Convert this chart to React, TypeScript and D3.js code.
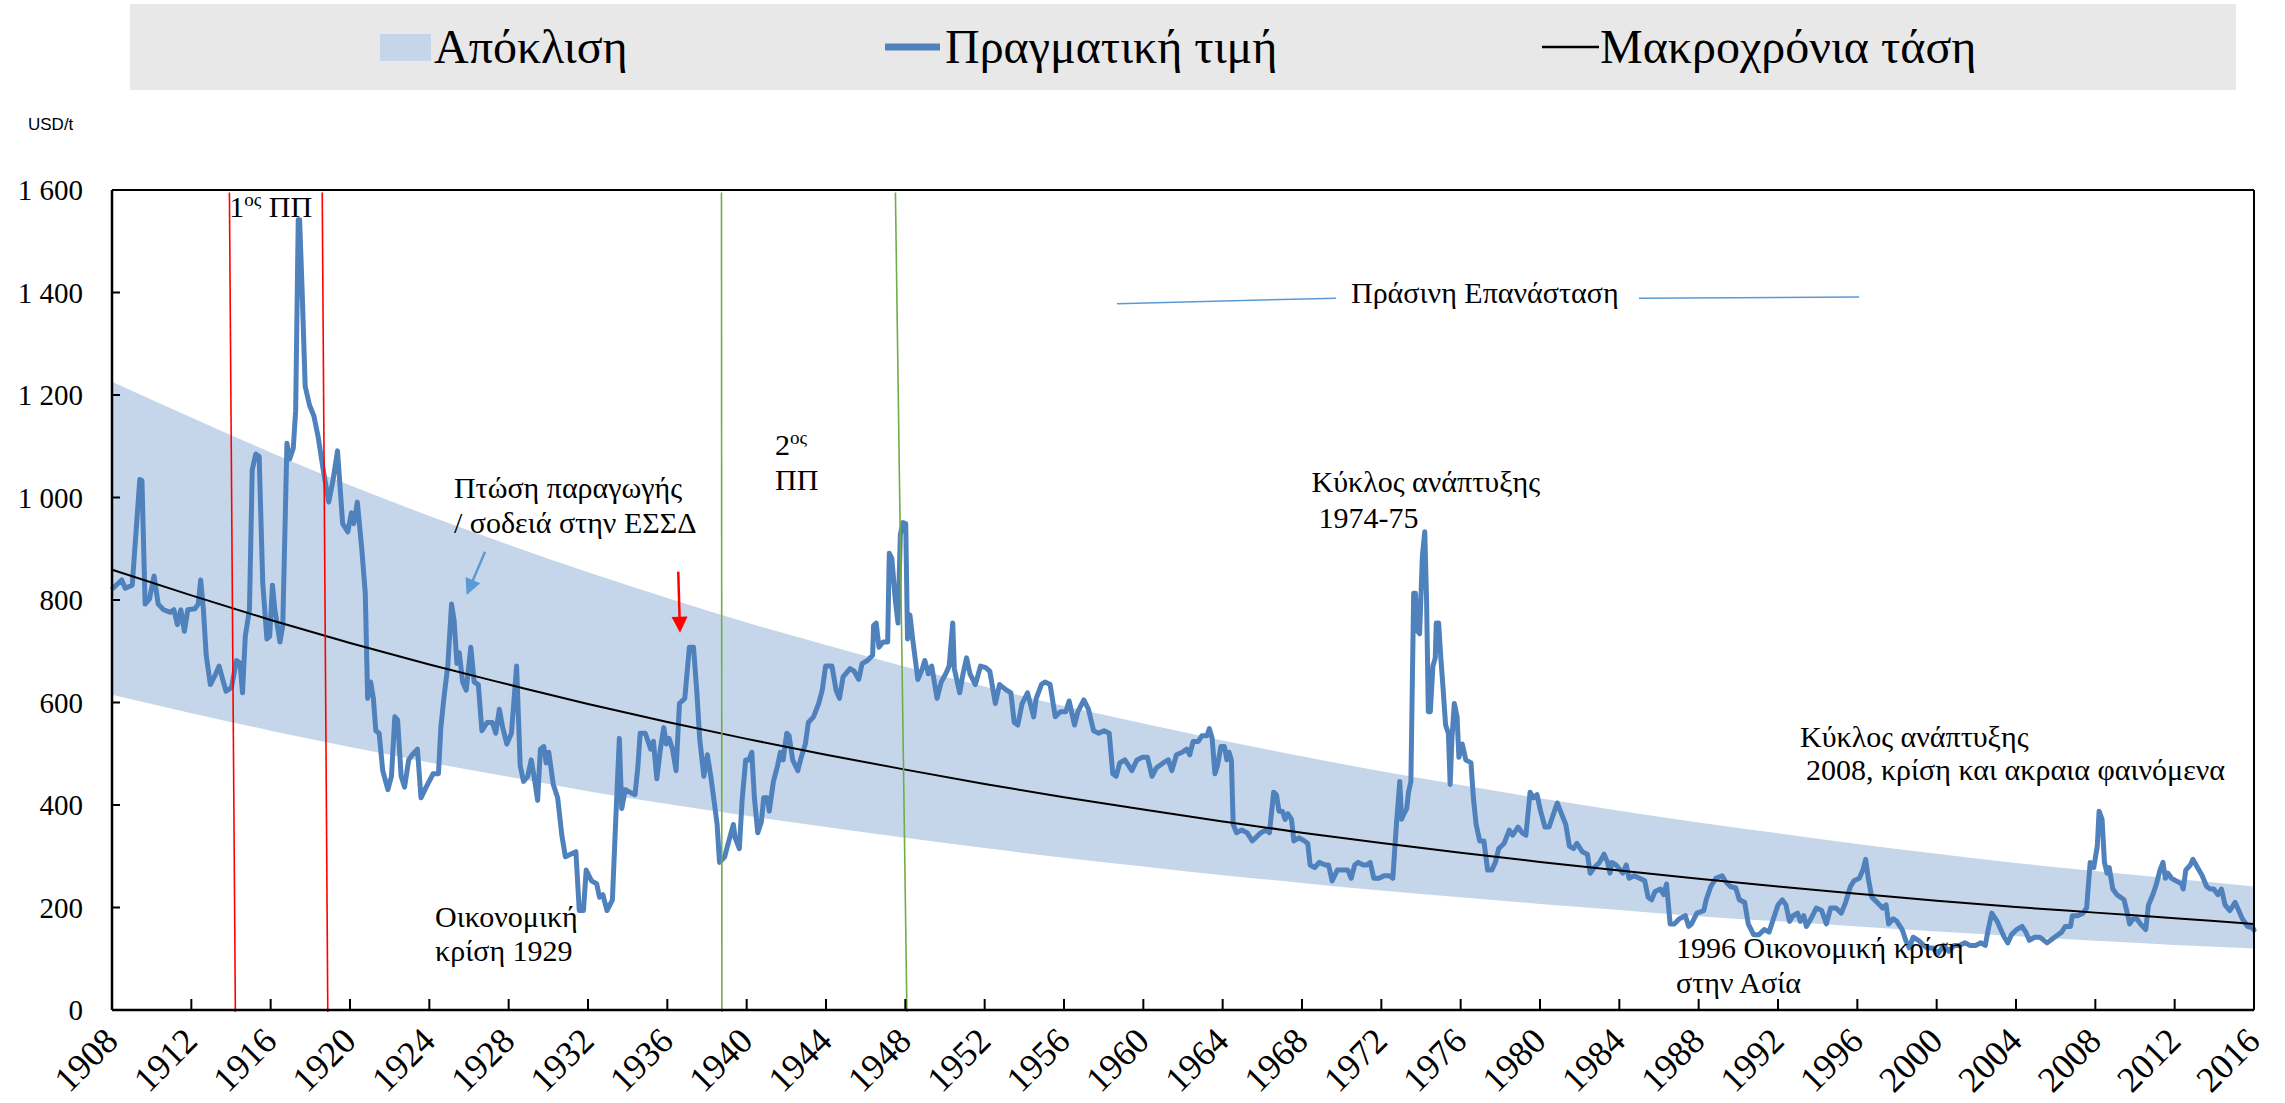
import React from 'react';
import * as d3 from 'd3';

const W = 2285;
const H = 1103;

const yTicks = [0, 200, 400, 600, 800, 1000, 1200, 1400, 1600];
const xTickYears = [1908, 1912, 1916, 1920, 1924, 1928, 1932, 1936, 1940, 1944, 1948, 1952, 1956, 1960, 1964, 1968, 1972, 1976, 1980, 1984, 1988, 1992, 1996, 2000, 2004, 2008, 2012, 2016];

// long-run trend & deviation band, read at every 4-year tick
const trendValues = [859, 809, 761, 716, 674, 635, 597, 562, 529, 498, 469, 441, 415, 391, 368, 346, 326, 307, 289, 272, 256, 241, 227, 213, 201, 190, 179, 168];
const bandUpper = [1226, 1156, 1088, 1024, 964, 908, 854, 804, 756, 712, 670, 631, 593, 559, 526, 495, 466, 439, 413, 389, 366, 345, 324, 305, 287, 271, 256, 241];
const bandLower = [615, 579, 545, 513, 483, 455, 427, 402, 379, 357, 336, 316, 297, 280, 263, 248, 233, 220, 207, 195, 183, 173, 163, 153, 144, 135, 127, 120];

// actual price, USD/t [year, value]
const price1908_1935: [number, number][] = [
  [1908.05, 823], [1908.49, 839], [1908.67, 823], [1909.02, 829], [1909.40, 1035], [1909.51, 1033], [1909.67, 792], [1909.89, 802],
  [1910.12, 847], [1910.33, 792], [1910.60, 781], [1910.95, 776], [1911.12, 781], [1911.30, 752], [1911.47, 781], [1911.65, 739],
  [1911.82, 781], [1912.18, 783], [1912.35, 792], [1912.47, 839], [1912.61, 781], [1912.75, 692], [1912.96, 635], [1913.23, 656],
  [1913.40, 671], [1913.58, 645], [1913.75, 622], [1914.02, 629], [1914.28, 682], [1914.46, 677], [1914.58, 619], [1914.72, 729],
  [1914.93, 781], [1915.07, 1054], [1915.25, 1085], [1915.42, 1080], [1915.60, 834], [1915.81, 724], [1915.95, 729], [1916.09, 829],
  [1916.21, 781], [1916.47, 718], [1916.61, 750], [1916.82, 1106], [1916.96, 1075], [1917.14, 1096], [1917.26, 1169], [1917.39, 1542],
  [1917.46, 1542], [1917.58, 1411], [1917.74, 1217], [1917.96, 1180], [1918.18, 1159], [1918.40, 1117], [1918.67, 1049], [1918.93, 991],
  [1919.14, 1033], [1919.37, 1091], [1919.63, 949], [1919.89, 933], [1920.07, 970], [1920.19, 949], [1920.37, 991], [1920.60, 897],
  [1920.77, 813], [1920.89, 608], [1921.04, 640], [1921.18, 608], [1921.30, 545], [1921.47, 540], [1921.65, 467], [1921.91, 430],
  [1922.09, 456], [1922.26, 572], [1922.40, 566], [1922.58, 456], [1922.75, 435], [1922.96, 488], [1923.14, 498], [1923.40, 509],
  [1923.58, 414], [1923.84, 435], [1924.19, 461], [1924.46, 461], [1924.58, 551], [1924.75, 614], [1924.93, 671], [1925.12, 792],
  [1925.25, 760], [1925.39, 676], [1925.51, 697], [1925.68, 640], [1925.86, 624], [1926.09, 708], [1926.26, 640], [1926.47, 635],
  [1926.65, 545], [1926.91, 561], [1927.18, 561], [1927.35, 540], [1927.53, 587], [1927.70, 551], [1927.91, 519], [1928.14, 540],
  [1928.40, 671], [1928.58, 477], [1928.75, 446], [1928.96, 456], [1929.14, 488], [1929.28, 456], [1929.46, 409], [1929.60, 509],
  [1929.77, 514], [1929.89, 482], [1930.02, 503], [1930.25, 440], [1930.47, 414], [1930.68, 341], [1930.86, 299], [1931.12, 304],
  [1931.39, 309], [1931.56, 194], [1931.77, 194], [1931.91, 273], [1932.18, 252], [1932.44, 246], [1932.58, 220], [1932.75, 225],
  [1932.96, 194], [1933.23, 215], [1933.40, 372], [1933.58, 530], [1933.70, 393], [1933.88, 430], [1934.11, 425], [1934.37, 420],
  [1934.51, 472], [1934.63, 540], [1934.89, 540], [1935.16, 509],
];

const price1935_1962: [number, number][] = [
  [1935.30, 524], [1935.47, 451], [1935.65, 509], [1935.82, 551], [1935.95, 519], [1936.09, 530], [1936.26, 509], [1936.44, 467],
  [1936.61, 598], [1936.88, 608], [1937.11, 708], [1937.32, 708], [1937.49, 619], [1937.63, 530], [1937.84, 456], [1938.02, 498],
  [1938.19, 456], [1938.37, 404], [1938.51, 362], [1938.63, 288], [1938.89, 299], [1939.07, 325], [1939.33, 362], [1939.42, 336],
  [1939.63, 315], [1939.77, 409], [1939.95, 488], [1940.12, 488], [1940.26, 503], [1940.39, 414], [1940.56, 346], [1940.74, 367],
  [1940.86, 414], [1941.04, 414], [1941.14, 388], [1941.35, 446], [1941.56, 477], [1941.70, 503], [1941.84, 488], [1942.02, 540],
  [1942.14, 535], [1942.32, 488], [1942.58, 467], [1942.75, 493], [1942.96, 519], [1943.11, 561], [1943.37, 572], [1943.63, 598],
  [1943.81, 624], [1943.98, 671], [1944.30, 671], [1944.51, 624], [1944.68, 608], [1944.86, 650], [1945.21, 666], [1945.42, 661],
  [1945.65, 645], [1945.82, 676], [1946.09, 682], [1946.35, 692], [1946.40, 750], [1946.53, 755], [1946.67, 708], [1946.88, 718],
  [1947.11, 718], [1947.19, 891], [1947.32, 881], [1947.49, 802], [1947.63, 755], [1947.75, 928], [1947.88, 951], [1948.02, 949],
  [1948.11, 724], [1948.23, 771], [1948.37, 724], [1948.63, 645], [1948.86, 666], [1948.98, 682], [1949.16, 656], [1949.33, 671],
  [1949.60, 608], [1949.81, 640], [1950.04, 656], [1950.21, 671], [1950.39, 755], [1950.47, 666], [1950.74, 619], [1950.91, 656],
  [1951.09, 687], [1951.26, 656], [1951.53, 635], [1951.79, 671], [1952.05, 668], [1952.26, 661], [1952.54, 598], [1952.75, 635],
  [1952.93, 629], [1953.11, 624], [1953.32, 619], [1953.49, 561], [1953.67, 556], [1953.89, 598], [1954.16, 619], [1954.30, 598],
  [1954.47, 572], [1954.60, 608], [1954.86, 635], [1955.04, 640], [1955.30, 635], [1955.56, 572], [1955.82, 582], [1956.09, 582],
  [1956.26, 603], [1956.53, 556], [1956.70, 582], [1957.00, 605], [1957.23, 587], [1957.49, 545], [1957.75, 540], [1958.02, 545],
  [1958.28, 540], [1958.46, 461], [1958.63, 456], [1958.81, 482], [1959.07, 488], [1959.42, 467], [1959.68, 488], [1959.95, 493],
  [1960.21, 493], [1960.44, 456], [1960.65, 472], [1961.00, 482], [1961.26, 488], [1961.44, 467], [1961.67, 498], [1961.96, 503],
  [1962.19, 509],
];

const price1962_1989: [number, number][] = [
  [1962.34, 498], [1962.51, 524], [1962.77, 524], [1962.95, 535], [1963.21, 535], [1963.33, 549], [1963.47, 530], [1963.61, 461],
  [1963.74, 477], [1963.91, 514], [1964.09, 514], [1964.21, 488], [1964.32, 503], [1964.44, 488], [1964.53, 362], [1964.70, 346],
  [1964.96, 351], [1965.23, 346], [1965.49, 330], [1965.66, 336], [1965.93, 346], [1966.19, 351], [1966.36, 346], [1966.57, 425],
  [1966.71, 420], [1966.84, 388], [1967.01, 388], [1967.15, 372], [1967.29, 383], [1967.47, 372], [1967.59, 330], [1967.85, 336],
  [1968.12, 330], [1968.29, 325], [1968.41, 283], [1968.64, 278], [1968.87, 288], [1969.17, 283], [1969.34, 283], [1969.52, 252],
  [1969.78, 273], [1970.13, 273], [1970.31, 273], [1970.48, 257], [1970.66, 283], [1970.83, 288], [1971.09, 283], [1971.27, 283],
  [1971.44, 288], [1971.62, 257], [1971.88, 257], [1972.14, 262], [1972.41, 262], [1972.58, 257], [1972.76, 362], [1972.93, 446],
  [1973.02, 372], [1973.14, 383], [1973.28, 393], [1973.37, 425], [1973.49, 446], [1973.63, 813], [1973.72, 813], [1973.81, 740],
  [1973.93, 734], [1974.07, 886], [1974.19, 933], [1974.28, 802], [1974.37, 582], [1974.47, 582], [1974.60, 671], [1974.72, 687],
  [1974.77, 755], [1974.89, 755], [1975.00, 687], [1975.12, 624], [1975.24, 556], [1975.38, 540], [1975.47, 440], [1975.56, 530],
  [1975.68, 598], [1975.82, 572], [1975.91, 493], [1976.08, 519], [1976.26, 488], [1976.52, 482], [1976.64, 414], [1976.78, 362],
  [1976.96, 330], [1977.17, 330], [1977.36, 273], [1977.57, 273], [1977.75, 288], [1977.92, 315], [1978.19, 325], [1978.45, 351],
  [1978.62, 341], [1978.89, 357], [1979.10, 346], [1979.29, 341], [1979.50, 425], [1979.67, 414], [1979.85, 420], [1980.03, 388],
  [1980.25, 357], [1980.46, 357], [1980.64, 378], [1980.87, 404], [1981.08, 383], [1981.30, 362], [1981.48, 320], [1981.69, 315],
  [1981.86, 325], [1982.13, 309], [1982.39, 304], [1982.53, 267], [1982.74, 278], [1983.00, 288], [1983.23, 304], [1983.41, 288],
  [1983.53, 267], [1983.62, 288], [1983.83, 283], [1984.05, 273], [1984.18, 267], [1984.35, 283], [1984.49, 257], [1984.75, 262],
  [1985.02, 257], [1985.28, 252], [1985.45, 220], [1985.63, 215], [1985.80, 231], [1986.07, 236], [1986.24, 225], [1986.38, 246],
  [1986.56, 168], [1986.77, 168], [1987.03, 178], [1987.33, 184], [1987.50, 163], [1987.64, 168], [1987.91, 189], [1988.26, 194],
  [1988.38, 215], [1988.61, 241], [1988.87, 257], [1989.18, 262],
];

const price1989_2016: [number, number][] = [
  [1989.33, 252], [1989.60, 241], [1989.87, 238], [1990.05, 215], [1990.32, 210], [1990.50, 168], [1990.77, 147], [1991.04, 147],
  [1991.31, 157], [1991.55, 152], [1991.77, 178], [1992.00, 205], [1992.22, 215], [1992.40, 205], [1992.58, 173], [1992.76, 184],
  [1992.99, 189], [1993.12, 173], [1993.30, 184], [1993.43, 163], [1993.66, 178], [1993.93, 199], [1994.20, 194], [1994.44, 168],
  [1994.65, 199], [1994.92, 199], [1995.19, 189], [1995.41, 210], [1995.65, 241], [1995.83, 252], [1996.10, 257], [1996.28, 273],
  [1996.42, 294], [1996.55, 257], [1996.73, 220], [1997.00, 210], [1997.27, 199], [1997.45, 205], [1997.58, 168], [1997.81, 178],
  [1997.99, 173], [1998.26, 157], [1998.44, 136], [1998.62, 121], [1998.81, 142], [1999.08, 136], [1999.35, 126], [1999.53, 121],
  [1999.80, 121], [2000.07, 110], [2000.34, 126], [2000.61, 115], [2000.88, 126], [2001.15, 126], [2001.42, 131], [2001.69, 126],
  [2001.96, 126], [2002.23, 131], [2002.45, 126], [2002.60, 157], [2002.78, 189], [2003.05, 173], [2003.23, 157], [2003.41, 142],
  [2003.59, 131], [2003.77, 147], [2004.04, 157], [2004.31, 163], [2004.49, 152], [2004.67, 136], [2004.94, 142], [2005.21, 142],
  [2005.57, 131], [2005.84, 139], [2006.12, 147], [2006.30, 152], [2006.48, 163], [2006.75, 163], [2006.84, 184], [2007.11, 184],
  [2007.38, 189], [2007.56, 199], [2007.74, 288], [2007.92, 278], [2008.10, 320], [2008.19, 388], [2008.34, 372], [2008.46, 288],
  [2008.59, 267], [2008.70, 278], [2008.88, 236], [2009.09, 225], [2009.27, 220], [2009.45, 215], [2009.64, 184], [2009.73, 168],
  [2009.91, 178], [2010.09, 178], [2010.27, 168], [2010.54, 157], [2010.68, 205], [2010.90, 225], [2011.08, 246], [2011.26, 273],
  [2011.41, 288], [2011.53, 257], [2011.66, 267], [2011.84, 257], [2012.07, 252], [2012.34, 246], [2012.43, 236], [2012.56, 273],
  [2012.79, 283], [2012.92, 294], [2013.15, 278], [2013.39, 262], [2013.61, 241], [2013.79, 236], [2013.97, 236], [2014.18, 225],
  [2014.36, 236], [2014.54, 205], [2014.78, 194], [2015.05, 210], [2015.23, 194], [2015.41, 178], [2015.68, 163], [2015.95, 160],
  [2016.0, 156],
];

const legendLabels = ['Απόκλιση', 'Πραγματική τιμή', 'Μακροχρόνια τάση'];

const SERIF = '"Liberation Serif", "Times New Roman", serif';
const BAND = '#c6d6ea';
const LINE = '#4f81bd';

const fmt = d3.formatLocale({ decimal: ',', thousands: '\u00a0', grouping: [3], currency: ['', ''] }).format(',');

export default function App() {
  const x = d3.scaleLinear().domain([1908, 2016]).range([112, 2254]);
  const y = d3.scaleLinear().domain([0, 1600]).range([1010, 190]);

  const bandData = xTickYears.map((yr, i) => ({ yr, lo: bandLower[i], hi: bandUpper[i], t: trendValues[i] }));
  const area = d3.area<any>().x(d => x(d.yr)).y0(d => y(d.lo)).y1(d => y(d.hi)).curve(d3.curveMonotoneX);
  const trend = d3.line<any>().x(d => x(d.yr)).y(d => y(d.t)).curve(d3.curveMonotoneX);
  const price = [...price1908_1935, ...price1935_1962, ...price1962_1989, ...price1989_2016];
  const line = d3.line<[number, number]>().x(d => x(d[0])).y(d => y(d[1]));

  const vlines = [
    { y0: 1914.22, y1: 1913.92, c: '#ff0000' },
    { y0: 1918.88, y1: 1918.60, c: '#ff0000' },
    { y0: 1938.75, y1: 1938.73, c: '#70ad47' },
    { y0: 1948.08, y1: 1947.50, c: '#70ad47' },
  ];

  const txt = (yr: number, v: number) => ({ X: x(yr), Y: y(v) });
  const ann = { fontFamily: SERIF, fontSize: 30, fill: '#000' } as const;

  const redA = { s: txt(1936.55, 855), e: txt(1936.64, 736) };
  const blueA = { s: txt(1926.81, 894), e: txt(1925.88, 810) };

  const arrowHead = (s: { X: number; Y: number }, e: { X: number; Y: number }, len: number, half: number) => {
    const dx = e.X - s.X, dy = e.Y - s.Y;
    const L = Math.hypot(dx, dy);
    const ux = dx / L, uy = dy / L;
    const bx = e.X - ux * len, by = e.Y - uy * len;
    return `M${e.X},${e.Y} L${bx - uy * half},${by + ux * half} L${bx + uy * half},${by - ux * half} Z`;
  };
  const shorten = (s: { X: number; Y: number }, e: { X: number; Y: number }, len: number) => {
    const dx = e.X - s.X, dy = e.Y - s.Y;
    const L = Math.hypot(dx, dy);
    return { X: e.X - dx / L * len, Y: e.Y - dy / L * len };
  };

  const gl1 = { a: txt(1958.67, 1378), b: txt(1969.71, 1389) };
  const gl2 = { a: txt(1984.99, 1389), b: txt(1996.09, 1391) };

  return (
    <svg width={W} height={H} style={{ position: 'absolute', left: 0, top: 0, background: '#fff' }}>
      {/* legend */}
      <rect x={130} y={4} width={2106} height={86} fill="#e8e8e8" />
      <rect x={380} y={34} width={51} height={27} fill={BAND} />
      <text x={434} y={63} fontFamily={SERIF} fontSize={48}>{legendLabels[0]}</text>
      <line x1={885} x2={940} y1={47} y2={47} stroke={LINE} strokeWidth={7} />
      <text x={945} y={63} fontFamily={SERIF} fontSize={48}>{legendLabels[1]}</text>
      <line x1={1542} x2={1599} y1={47} y2={47} stroke="#000" strokeWidth={2.5} />
      <text x={1600} y={63} fontFamily={SERIF} fontSize={48}>{legendLabels[2]}</text>

      <text x={28} y={130} fontFamily='"Liberation Sans", Arial, sans-serif' fontSize={17}>USD/t</text>

      {/* band */}
      <path d={area(bandData) || ''} fill={BAND} />

      {/* price */}
      <path d={line(price) || ''} fill="none" stroke={LINE} strokeWidth={5} strokeLinejoin="round" strokeLinecap="round" />

      {/* trend */}
      <path d={trend(bandData) || ''} fill="none" stroke="#000" strokeWidth={2} />

      {/* vertical event lines */}
      {vlines.map((l, i) => (
        <line key={i} x1={x(l.y1)} y1={y(1595)} x2={x(l.y0)} y2={y(-4)} stroke={l.c} strokeWidth={1.6} />
      ))}

      {/* frame */}
      <line x1={112} x2={2254} y1={y(1600)} y2={y(1600)} stroke="#000" strokeWidth={2} />
      <line x1={x(2016)} x2={x(2016)} y1={y(1600)} y2={y(0)} stroke="#000" strokeWidth={2} />
      <line x1={x(1908)} x2={x(1908)} y1={y(1600)} y2={y(0)} stroke="#000" strokeWidth={2.5} />
      <line x1={x(1908)} x2={x(2016)} y1={y(0)} y2={y(0)} stroke="#000" strokeWidth={2.5} />

      {/* y ticks */}
      {yTicks.map(t => (
        <g key={t}>
          <line x1={x(1908)} x2={x(1908) + 8} y1={y(t)} y2={y(t)} stroke="#000" strokeWidth={2} />
          <text x={83} y={y(t)} dy="0.35em" textAnchor="end" fontFamily={SERIF} fontSize={29}>{fmt(t)}</text>
        </g>
      ))}

      {/* x ticks */}
      {xTickYears.map(t => (
        <g key={t}>
          <line x1={x(t)} x2={x(t)} y1={y(0)} y2={y(0) - 11} stroke="#000" strokeWidth={2} />
          <text transform={`translate(${x(t) + 8},${1043}) rotate(-45)`} textAnchor="end" fontFamily={SERIF} fontSize={36}>{t}</text>
        </g>
      ))}

      {/* annotations */}
      <text x={txt(1913.91, 0).X} y={txt(0, 1547).Y} {...ann}>
        1<tspan fontSize={19} dy={-11}>ος</tspan><tspan dy={11}> ΠΠ</tspan>
      </text>
      <text x={txt(1925.24, 0).X} y={txt(0, 999).Y} {...ann}>Πτώση παραγωγής</text>
      <text x={txt(1925.24, 0).X} y={txt(0, 931).Y} {...ann}>/ σοδειά στην ΕΣΣΔ</text>
      <text x={txt(1941.43, 0).X} y={txt(0, 1083).Y} {...ann}>
        2<tspan fontSize={19} dy={-11}>ος</tspan>
      </text>
      <text x={txt(1941.43, 0).X} y={txt(0, 1015).Y} {...ann}>ΠΠ</text>
      <text x={txt(1970.47, 0).X} y={txt(0, 1379).Y} {...ann}>Πράσινη Επανάσταση</text>
      <line x1={gl1.a.X} y1={gl1.a.Y} x2={gl1.b.X} y2={gl1.b.Y} stroke="#5b9bd5" strokeWidth={1.5} />
      <line x1={gl2.a.X} y1={gl2.a.Y} x2={gl2.b.X} y2={gl2.b.Y} stroke="#5b9bd5" strokeWidth={1.5} />
      <text x={txt(1968.48, 0).X} y={txt(0, 1010).Y} {...ann}>Κύκλος ανάπτυξης</text>
      <text x={txt(1968.83, 0).X} y={txt(0, 940).Y} {...ann}>1974-75</text>
      <text x={txt(1993.11, 0).X} y={txt(0, 514).Y} {...ann}>Κύκλος ανάπτυξης</text>
      <text x={txt(1993.41, 0).X} y={txt(0, 449).Y} {...ann}>2008, κρίση και ακραια φαινόμενα</text>
      <text x={txt(1924.29, 0).X} y={txt(0, 161).Y} {...ann}>Οικονομική</text>
      <text x={txt(1924.29, 0).X} y={txt(0, 96).Y} {...ann}>κρίση 1929</text>
      <text x={txt(1986.86, 0).X} y={txt(0, 101).Y} {...ann}>1996 Οικονομική κρίση</text>
      <text x={txt(1986.86, 0).X} y={txt(0, 33).Y} {...ann}>στην Ασία</text>

      {/* arrows */}
      {(() => {
        const e = shorten(redA.s, redA.e, 12);
        return (
          <g>
            <line x1={redA.s.X} y1={redA.s.Y} x2={e.X} y2={e.Y} stroke="#ff0000" strokeWidth={2.5} />
            <path d={arrowHead(redA.s, redA.e, 16, 8)} fill="#ff0000" />
          </g>
        );
      })()}
      {(() => {
        const e = shorten(blueA.s, blueA.e, 12);
        return (
          <g>
            <line x1={blueA.s.X} y1={blueA.s.Y} x2={e.X} y2={e.Y} stroke="#5b9bd5" strokeWidth={2.5} />
            <path d={arrowHead(blueA.s, blueA.e, 16, 8)} fill="#5b9bd5" />
          </g>
        );
      })()}
    </svg>
  );
}
